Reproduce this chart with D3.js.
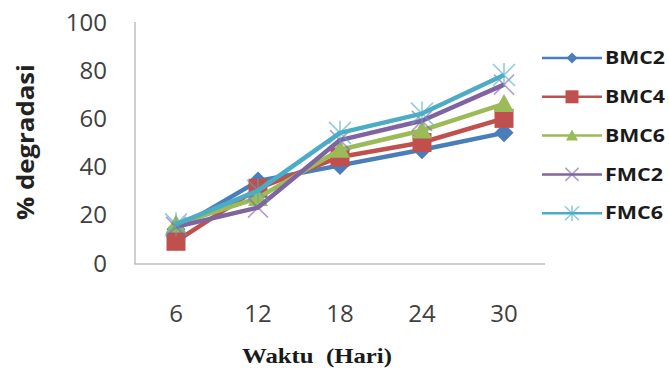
<!DOCTYPE html>
<html><head><meta charset="utf-8">
<script src="https://cdn.jsdelivr.net/npm/d3@7/dist/d3.min.js"></script>
<style>body{margin:0;background:#fff}svg{display:block}</style>
</head><body><svg id="c" width="669" height="371"></svg>
<script>
const categories = ["6","12","18","24","30"];
const seriesNames = ["BMC2","BMC4","BMC6","FMC2","FMC6"];
const BMC2 = [14, 34, 40.5, 47, 54];
const BMC4 = [9, 31, 44, 50, 60];
const BMC6 = [16, 27, 47, 55, 66];
const FMC2 = [15, 23, 51, 59, 74];
const FMC6 = [16, 30, 54, 62, 78];
const yTicks = [0,20,40,60,80,100];
const colors = ["#4A7EBB","#C0504D","#9BBB59","#8064A2","#4BACC6"];
const markers = ["diamond","square","triangle","x","star"];
const values = [BMC2,BMC4,BMC6,FMC2,FMC6];

const svg = d3.select("#c");
const x = d3.scaleBand().domain(categories).range([135,545]);
const y = d3.scaleLinear().domain([0,100]).range([263,22]);

svg.append("line").attr("x1",135).attr("x2",135).attr("y1",y(100)).attr("y2",y(0)+1)
  .attr("stroke","#BFBFBF").attr("stroke-width",1.5);
svg.append("line").attr("x1",134).attr("x2",545).attr("y1",y(0)+1).attr("y2",y(0)+1)
  .attr("stroke","#BFBFBF").attr("stroke-width",1.5);

svg.selectAll("text.yt").data(yTicks).enter().append("text")
  .attr("x",107).attr("y",d=>y(d)).attr("dy","0.36em").attr("text-anchor","end")
  .style("font","24px 'Open Sans', sans-serif").attr("fill","#404040").text(d=>d);
svg.selectAll("text.xt").data(categories).enter().append("text")
  .attr("x",d=>x(d)+x.bandwidth()/2).attr("y",313).attr("dy","0.36em").attr("text-anchor","middle")
  .style("font","24px 'Open Sans', sans-serif").attr("fill","#404040").text(d=>d);

svg.append("text").attr("transform","translate(34,142) rotate(-90)").attr("text-anchor","middle")
  .style("font","bold 24px 'Open Sans', sans-serif").attr("fill","#222").attr("textLength",156)
  .attr("lengthAdjust","spacingAndGlyphs").text("% degradasi");
svg.append("text").attr("x",317).attr("y",363).attr("text-anchor","middle")
  .style("font","bold 21px 'Liberation Serif', serif").style("white-space","pre").attr("fill","#1a1a1a").attr("textLength",150)
  .attr("lengthAdjust","spacingAndGlyphs").text("Waktu  (Hari)");

function marker(g, type, color, w){
  const h = w/2;
  if(type==="diamond") g.append("path").attr("d",`M0,${-h}L${h},0L0,${h}L${-h},0Z`).attr("fill",color);
  else if(type==="square") g.append("rect").attr("x",-h).attr("y",-h).attr("width",w).attr("height",w).attr("fill",color);
  else if(type==="triangle") g.append("path").attr("d",`M0,${-h}L${h},${h*0.8}L${-h},${h*0.8}Z`).attr("fill",color);
  else if(type==="x") g.append("path").attr("d",`M${-h},${-h}L${h},${h}M${-h},${h}L${h},${-h}`).attr("stroke",color).attr("stroke-width",1.6).attr("opacity",0.6);
  else if(type==="star") g.append("path").attr("d",`M${-h},${-h}L${h},${h}M${-h},${h}L${h},${-h}M0,${-h*1.1}L0,${h*1.1}`).attr("stroke",color).attr("stroke-width",1.6).attr("opacity",0.6);
}

const line = d3.line().x((d,i)=>x(categories[i])+x.bandwidth()/2).y(d=>y(d));
const sizes = [19,19,20,20,22];
values.forEach((vals,si)=>{
  svg.append("path").datum(vals).attr("d",line).attr("fill","none")
    .attr("stroke",colors[si]).attr("stroke-width",4.5).attr("stroke-linejoin","round");
  vals.forEach((v,i)=>{
    const g = svg.append("g").attr("transform",`translate(${x(categories[i])+x.bandwidth()/2},${y(v)})`);
    marker(g, markers[si], colors[si], sizes[si]);
  });
});

const ly0 = 58, ldy = 38.8;
seriesNames.forEach((n,i)=>{
  const yy = ly0 + i*ldy;
  svg.append("line").attr("x1",542).attr("x2",602).attr("y1",yy).attr("y2",yy)
    .attr("stroke",colors[i]).attr("stroke-width",2.5);
  const g = svg.append("g").attr("transform",`translate(572,${yy})`);
  marker(g, markers[i], colors[i], [11,13,12,13,14][i]);
  svg.append("text").attr("x",605).attr("y",yy).attr("dy","0.36em")
    .style("font","bold 17px 'Open Sans', sans-serif").attr("fill","#1a1a1a").attr("textLength",[60,60,60,58,58][i])
    .attr("lengthAdjust","spacingAndGlyphs").text(n);
});
</script></body></html>
